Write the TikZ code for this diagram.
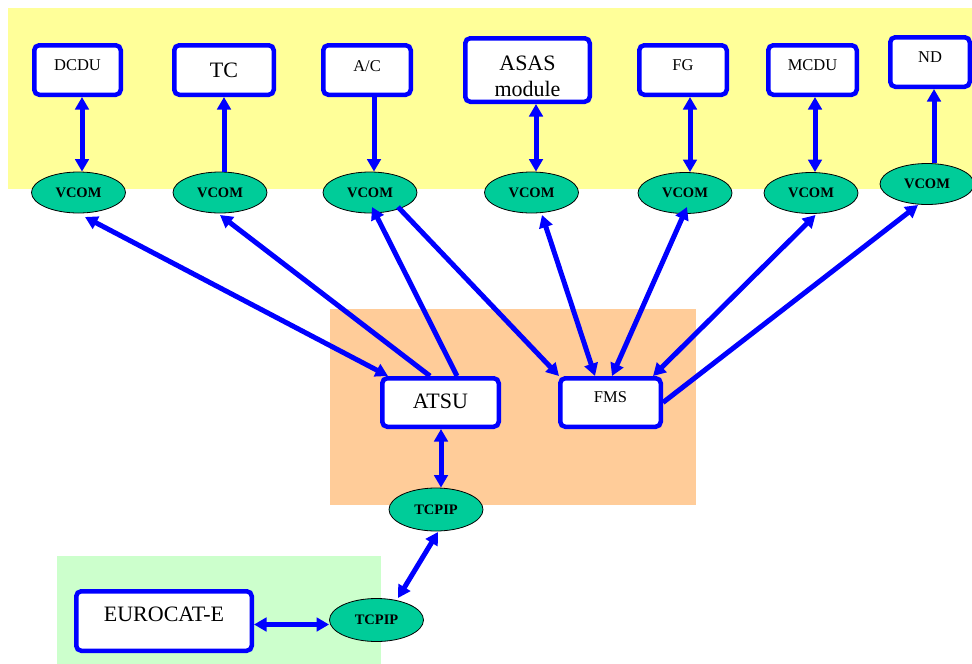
\documentclass[tikz,border=0pt]{standalone}
\usepackage{fontspec}
\setmainfont{Liberation Serif}
\usetikzlibrary{shapes.geometric,arrows.meta,calc}

\definecolor{bandyellow}{HTML}{FFFF99}
\definecolor{zoneorange}{HTML}{FFCC99}
\definecolor{zonegreen}{HTML}{CCFFCC}
\definecolor{comgreen}{HTML}{00CC99}

\newcommand{\fntS}{\fontsize{16.5}{20}\selectfont}
\newcommand{\fntL}{\fontsize{22}{26}\selectfont}
\newcommand{\fntC}{\fontsize{14.5}{16}\selectfont\bfseries}
% raise a label inside its box without changing the box size
\newcommand{\lifttext}[2]{\raisebox{#1}[\height][\depth]{#2}}

\tikzset{
  unitbox/.style={draw=blue, line width=4.5pt, fill=white, rounded corners=5pt,
                  inner sep=0pt},
  comnode/.style={ellipse, draw=black, line width=0.8pt, fill=comgreen,
                  minimum width=94pt, minimum height=41pt, inner sep=0pt, font=\fntC},
  link/.style={draw=blue, line width=5pt},
  both/.style={link, {Triangle[length=12.5pt,width=13.5pt]}-{Triangle[length=12.5pt,width=13.5pt]}},
  fwd/.style={link, -{Triangle[length=12.5pt,width=13.5pt]}}
}

\begin{document}
\begin{tikzpicture}[x=1pt,y=-1pt]
\useasboundingbox (0,0) rectangle (972,664);

% zones
\fill[bandyellow] (8,8) rectangle (972,189);
\fill[zoneorange] (330,309) rectangle (696,505);
\fill[zonegreen] (57,556) rectangle (381,664);

% on-board units
\node[unitbox, minimum width=86.5pt, minimum height=49.5pt, font=\fntS] (dcdu) at (77.5,70) {\lifttext{4.5pt}{DCDU}};
\node[unitbox, minimum width=99.5pt, minimum height=49.5pt, font=\fntL] (tc) at (224,70) {TC};
\node[unitbox, minimum width=87.5pt, minimum height=49.5pt, font=\fntS] (ac) at (367,70) {\lifttext{4pt}{A/C}};
\node[unitbox, minimum width=124.5pt, minimum height=63.5pt,
      label={[font=\fntL, align=center, yshift=-6.5pt]center:{ASAS\\module}}] (asas) at (527.5,70) {};
\node[unitbox, minimum width=87.5pt, minimum height=49.5pt, font=\fntS] (fg) at (683,70) {\lifttext{4.5pt}{FG}};
\node[unitbox, minimum width=88.5pt, minimum height=49.5pt, font=\fntS] (mcdu) at (812.5,70) {\lifttext{4.5pt}{MCDU}};
\node[unitbox, minimum width=79.5pt, minimum height=49.5pt, font=\fntS] (nd) at (930,62) {\lifttext{5pt}{ND}};

\node[unitbox, minimum width=116.5pt, minimum height=48.5pt, font=\fntL] (atsu) at (440.5,402.5) {\lifttext{1pt}{ATSU}};
\node[unitbox, minimum width=100.5pt, minimum height=48.5pt, font=\fntS] (fms) at (610.5,402.5) {\lifttext{5pt}{FMS}};
\node[unitbox, minimum width=175.5pt, minimum height=59.5pt, font=\fntL] (euro) at (164,621) {\lifttext{6.5pt}{EUROCAT-E}};

% communication layers
\node[comnode] (v1) at (78.5,192.5) {VCOM};
\node[comnode] (v2) at (220,192.5) {VCOM};
\node[comnode] (v3) at (370,192.5) {VCOM};
\node[comnode] (v4) at (531.5,192.5) {VCOM};
\node[comnode] (v5) at (685,193) {VCOM};
\node[comnode] (v6) at (811,193) {VCOM};
\node[comnode] (v7) at (927,184) {VCOM};
\node[comnode, minimum height=43pt] (t1) at (436,509.5) {TCPIP};
\node[comnode, minimum height=43pt] (t2) at (376.5,620) {TCPIP};

% unit <-> VCOM links
\draw[both] ($(dcdu.south)+(4.5,0)$) -- ($(v1.north)+(3.5,0)$);
\draw[fwd]  ($(v2.north)+(4,0)$) -- (tc.south);
\draw[fwd]  ($(ac.south)+(7,0)$) -- ($(v3.north)+(4,0)$);
\draw[both] ($(asas.south)+(8.5,0)$) -- ($(v4.north)+(4.5,0)$);
\draw[both] ($(fg.south)+(7,0)$) -- ($(v5.north)+(5,0)$);
\draw[both] ($(mcdu.south)+(2.5,0)$) -- ($(v6.north)+(4,0)$);
\draw[fwd]  ($(v7.north)+(7,0)$) -- ($(nd.south)+(4,0)$);

% ATSU links
\draw[both] ($(v1)+(6.5,24.5)$) -- ($(atsu.north west)+(8,0)$);
\draw[fwd]  ($(atsu.north west)+(50,0)$) -- ($(v2)+(0,22.5)$);
\draw[fwd]  ($(atsu.north west)+(77,0)$) -- ($(v3)+(2,14.5)$);

% FMS links
\draw[fwd]  ($(v3)+(28,14.5)$) -- ($(fms.north west)+(1,0)$);
\draw[both] ($(v4)+(10.5,22.5)$) -- ($(fms.north west)+(37,0)$);
\draw[both] ($(v5)+(2,14)$) -- ($(fms.north west)+(54,0)$);
\draw[both] ($(v6)+(4.5,22)$) -- ($(fms.north west)+(95,0)$);
\draw[fwd]  (fms.east) -- ($(v7)+(-9,21)$);

% ground link
\draw[both] ($(atsu.south)+(0.5,0)$) -- ($(t1.north)+(5,0)$);
\draw[both] ($(t1)+(2,22.5)$) -- ($(t2)+(21.5,-22)$);
\draw[both] ($(euro.east)+(0,3.5)$) -- ($(t2.west)+(0,4.5)$);
\end{tikzpicture}
\end{document}
